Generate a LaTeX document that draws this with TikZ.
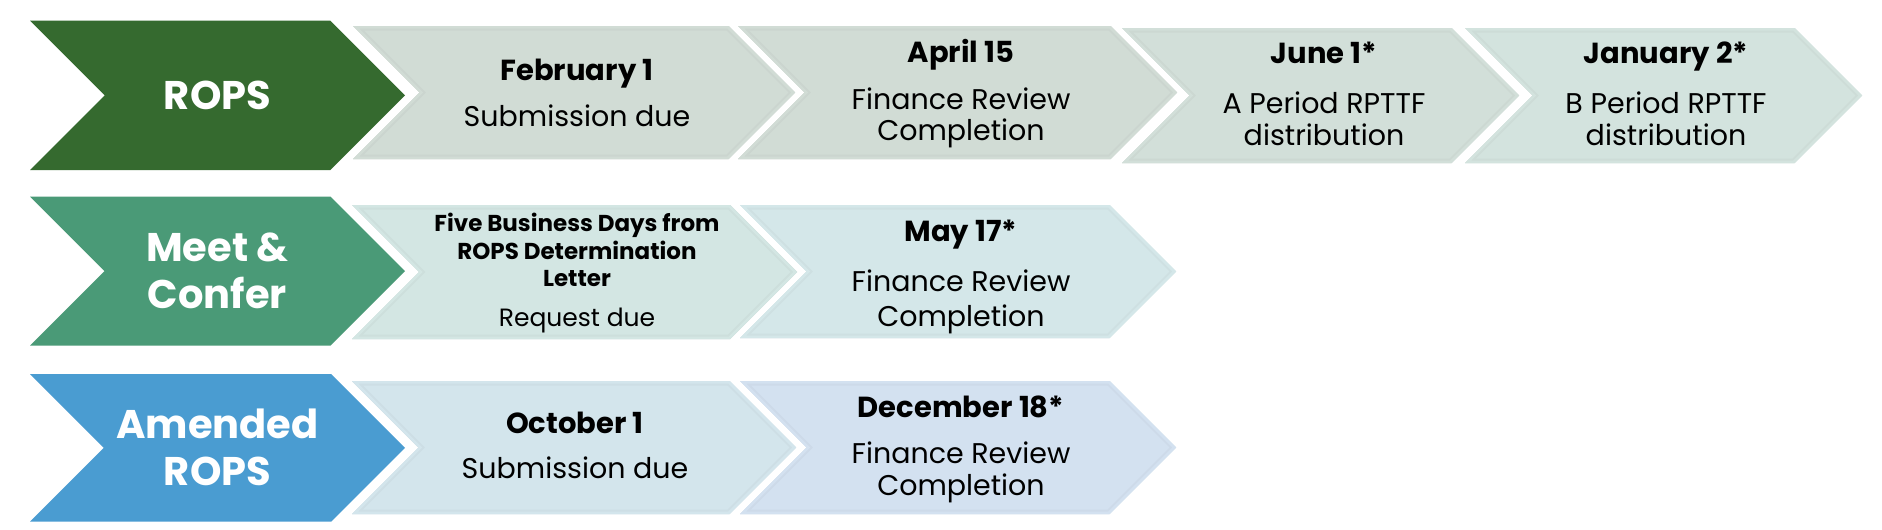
\documentclass[tikz,border=0pt]{standalone}
\usepackage{fontspec}
\setmainfont{Poppins}
\definecolor{ropsG}{HTML}{356A2F}
\definecolor{meetG}{HTML}{4A9A77}
\definecolor{amdB}{HTML}{4A9CD1}
\definecolor{fA}{HTML}{D1DCD5}
\definecolor{fB}{HTML}{D2DFD9}
\definecolor{fC}{HTML}{D3E3DE}
\definecolor{fD}{HTML}{D3E6E3}
\definecolor{fE}{HTML}{D4E7E9}
\definecolor{fF}{HTML}{D3E5EC}
\definecolor{fG}{HTML}{D3E1F0}
\newcommand\leadchev[5]{\fill[#5] (#1,#3) -- ({#2-(#4-#3)/2},#3) -- (#2,{(#3+#4)/2}) -- ({#2-(#4-#3)/2},#4) -- (#1,#4) -- ({#1+(#4-#3)/2},{(#3+#4)/2}) -- cycle;}
\newcommand\stepchev[5]{%
  \begin{scope}
  \fill[#5] (#1,#3) -- ({#2-(#4-#3)/2},#3) -- (#2,{(#3+#4)/2}) -- ({#2-(#4-#3)/2},#4) -- (#1,#4) -- ({#1+(#4-#3)/2},{(#3+#4)/2}) -- cycle;
  \clip (#1,#3) -- ({#2-(#4-#3)/2},#3) -- (#2,{(#3+#4)/2}) -- ({#2-(#4-#3)/2},#4) -- (#1,#4) -- ({#1+(#4-#3)/2},{(#3+#4)/2}) -- cycle;
  \draw[#5!97!black, line width=9pt] (#1,#3) -- ({#2-(#4-#3)/2},#3) -- (#2,{(#3+#4)/2}) -- ({#2-(#4-#3)/2},#4) -- (#1,#4) -- ({#1+(#4-#3)/2},{(#3+#4)/2}) -- cycle;
  \draw[#5, line width=5pt] (#1,#3) -- ({#2-(#4-#3)/2},#3) -- (#2,{(#3+#4)/2}) -- ({#2-(#4-#3)/2},#4) -- (#1,#4) -- ({#1+(#4-#3)/2},{(#3+#4)/2}) -- cycle;
  \end{scope}}
\tikzset{
  leadtxt/.style={font=\fontsize{40}{46}\selectfont\bfseries, text=white, anchor=base, inner sep=0pt},
  datetxt/.style={font=\fontsize{29}{31}\selectfont\bfseries, text=black, anchor=base, inner sep=0pt},
  desctxt/.style={font=\fontsize{28.5}{31}\selectfont, text=black, anchor=base, inner sep=0pt},
  smalldate/.style={font=\fontsize{23}{27}\selectfont\bfseries, text=black, anchor=base, inner sep=0pt},
  smalldesc/.style={font=\fontsize{25}{27}\selectfont, text=black, anchor=base, inner sep=0pt},
}
\begin{document}
\begin{tikzpicture}[x=1pt,y=-1pt]
\useasboundingbox[fill=white] (0,0) rectangle (1882,530);
% row 1
\leadchev{30}{405}{20.7}{170}{ropsG}
\stepchev{353}{795}{26}{159}{fA}
\stepchev{738}{1177}{26}{159}{fA}
\stepchev{1122}{1519}{28}{163}{fB}
\stepchev{1465}{1862}{28}{163}{fC}
% row 2
\leadchev{30}{405}{196.7}{345.7}{meetG}
\stepchev{352}{797}{205}{339}{fD}
\stepchev{740}{1176}{205}{338}{fE}
% row 3
\leadchev{30}{405}{374}{521.7}{amdB}
\stepchev{352}{796}{381}{514}{fF}
\stepchev{740}{1176}{381}{514}{fG}
% lead labels
\node[leadtxt] (rops) at (217.5,109) {ROPS};
\node[leadtxt] (meet) at (217.5,261.7) {Meet \&};
\node[leadtxt] (confer) at (217.5,308) {Confer};
\node[leadtxt] (amended) at (217.5,438) {Amended};
\node[leadtxt] (arops) at (217.5,485) {ROPS};
% row 1 texts
\node[datetxt] (feb) at (577,80) {February 1};
\node[desctxt] (febd) at (577,126) {Submission due};
\node[datetxt] (apr) at (961,62.7) {April 15};
\node[desctxt] (aprd1) at (961,109) {Finance Review};
\node[desctxt] (aprd2) at (961,140) {Completion};
\node[datetxt] (jun) at (1324,63.3) {June 1*};
\node[desctxt] (jund1) at (1324,113) {A Period RPTTF};
\node[desctxt] (jund2) at (1324,145) {distribution};
\node[datetxt] (jan) at (1666,63.3) {January 2*};
\node[desctxt] (jand1) at (1666,113) {B Period RPTTF};
\node[desctxt] (jand2) at (1666,145) {distribution};
% row 2 texts
\node[smalldate] (five1) at (577,231.7) {Five Business Days from};
\node[smalldate] (five2) at (577,259) {ROPS Determination};
\node[smalldate] (five3) at (577,286) {Letter};
\node[smalldesc] (req) at (577,326) {Request due};
\node[datetxt] (may) at (961,241) {May 17*};
\node[desctxt] (mayd1) at (961,291) {Finance Review};
\node[desctxt] (mayd2) at (961,326.7) {Completion};
% row 3 texts
\node[datetxt] (oct) at (575,433.3) {October 1};
\node[desctxt] (octd) at (575,478.3) {Submission due};
\node[datetxt] (dec) at (961,417.7) {December 18*};
\node[desctxt] (decd1) at (961,463) {Finance Review};
\node[desctxt] (decd2) at (961,495) {Completion};
\end{tikzpicture}
\end{document}
